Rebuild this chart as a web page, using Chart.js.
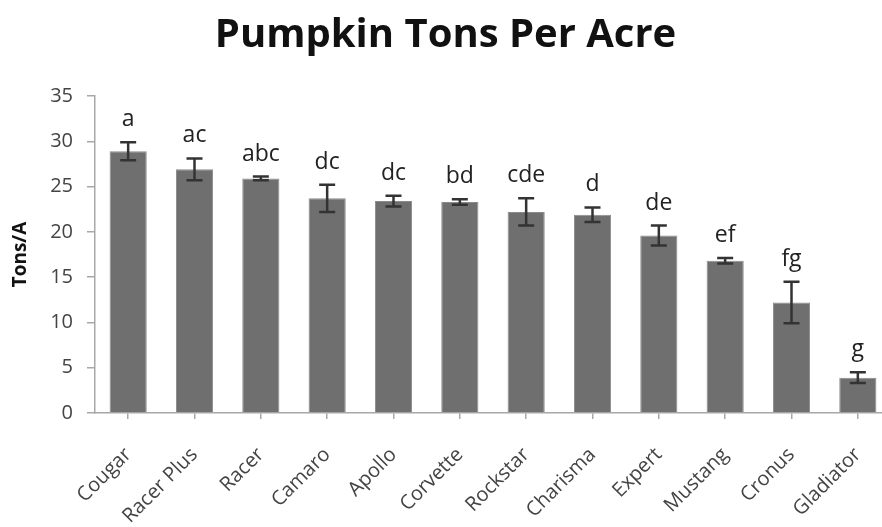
<!DOCTYPE html>
<html>
<head>
<meta charset="utf-8">
<script src="https://cdn.jsdelivr.net/npm/chart.js@4.4.1/dist/chart.umd.min.js"></script>
<style>
  html, body { margin: 0; padding: 0; background: #fff; overflow: hidden; }
  #wrap { width: 900px; height: 527px; }
</style>
</head>
<body>
<div id="wrap"><canvas id="myBarChart" width="900" height="527"></canvas></div>
<script>
const varieties = ['Cougar','Racer Plus','Racer','Camaro','Apollo','Corvette','Rockstar','Charisma','Expert','Mustang','Cronus','Gladiator'];
const tonsPerAcre = [28.9, 26.9, 25.9, 23.7, 23.4, 23.3, 22.2, 21.9, 19.6, 16.8, 12.2, 3.9];
const stdErr = [1.0, 1.2, 0.2, 1.5, 0.6, 0.3, 1.5, 0.8, 1.1, 0.3, 2.3, 0.6];
const letters = ['a','ac','abc','dc','dc','bd','cde','d','de','ef','fg','g'];
const yTicks = [0, 5, 10, 15, 20, 25, 30, 35];

// error bars + significance letters
const errorBars = {
  id: 'errorBars',
  afterDatasetsDraw(chart) {
    const ctx = chart.ctx;
    const y = chart.scales.y;
    const meta = chart.getDatasetMeta(0);
    ctx.save();
    meta.data.forEach((bar, i) => {
      const top = y.getPixelForValue(tonsPerAcre[i] + stdErr[i]);
      const bot = y.getPixelForValue(tonsPerAcre[i] - stdErr[i]);
      ctx.strokeStyle = '#333';
      ctx.lineWidth = 2.5;
      ctx.beginPath();
      ctx.moveTo(bar.x, top); ctx.lineTo(bar.x, bot);
      ctx.moveTo(bar.x - 8, top); ctx.lineTo(bar.x + 8, top);
      ctx.moveTo(bar.x - 8, bot); ctx.lineTo(bar.x + 8, bot);
      ctx.stroke();
      ctx.fillStyle = '#222';
      ctx.font = '23px "Open Sans"';
      ctx.textAlign = 'center';
      ctx.textBaseline = 'alphabetic';
      ctx.fillText(letters[i], bar.x, top - 16);
    });
    ctx.restore();
  }
};

const data = {
  labels: varieties,
  datasets: [{
    data: tonsPerAcre,
    backgroundColor: '#6f6f6f',
    borderColor: '#8a8a8a',
    borderWidth: 1,
    barPercentage: 0.56,
    categoryPercentage: 1.0
  }]
};

const config = {
  type: 'bar',
  data,
  plugins: [errorBars],
  options: {
    responsive: false,
    animation: false,
    layout: { padding: { left: 0, right: 9, top: 0, bottom: 0 } },
    plugins: {
      legend: { display: false },
      tooltip: { enabled: false },
      title: {
        display: true,
        text: 'Pumpkin Tons Per Acre',
        color: '#111',
        font: { family: 'Open Sans', size: 40, weight: 'bold', lineHeight: 1.2 },
        padding: { top: 12, bottom: 36 }
      }
    },
    scales: {
      y: {
        min: 0, max: 35,
        afterBuildTicks(scale) { scale.ticks = yTicks.map(v => ({ value: v })); },
        afterFit(scale) { scale.width = 95; },
        border: { color: '#a8a8a8', width: 1.5 },
        grid: { drawOnChartArea: false, tickLength: 8, color: '#a8a8a8', lineWidth: 1.5 },
        ticks: { color: '#444', padding: 14, font: { family: 'Open Sans', size: 20 } },
        title: {
          display: true, text: 'Tons/A', color: '#111',
          font: { family: 'Open Sans', size: 19, weight: 'bold', lineHeight: 1.2 },
          padding: { top: 9, bottom: 0 }
        }
      },
      x: {
        afterFit(scale) { scale.height = 114; },
        border: { color: '#a8a8a8', width: 1.5 },
        grid: { drawOnChartArea: false, offset: false, tickLength: 6, color: '#a8a8a8', lineWidth: 1.5 },
        ticks: {
          color: '#444', autoSkip: false, minRotation: 45, maxRotation: 45, padding: 24,
          font: { family: 'Open Sans', size: 20 }
        }
      }
    }
  }
};

const myBarChart = new Chart(document.getElementById('myBarChart'), config);
</script>
</body>
</html>
